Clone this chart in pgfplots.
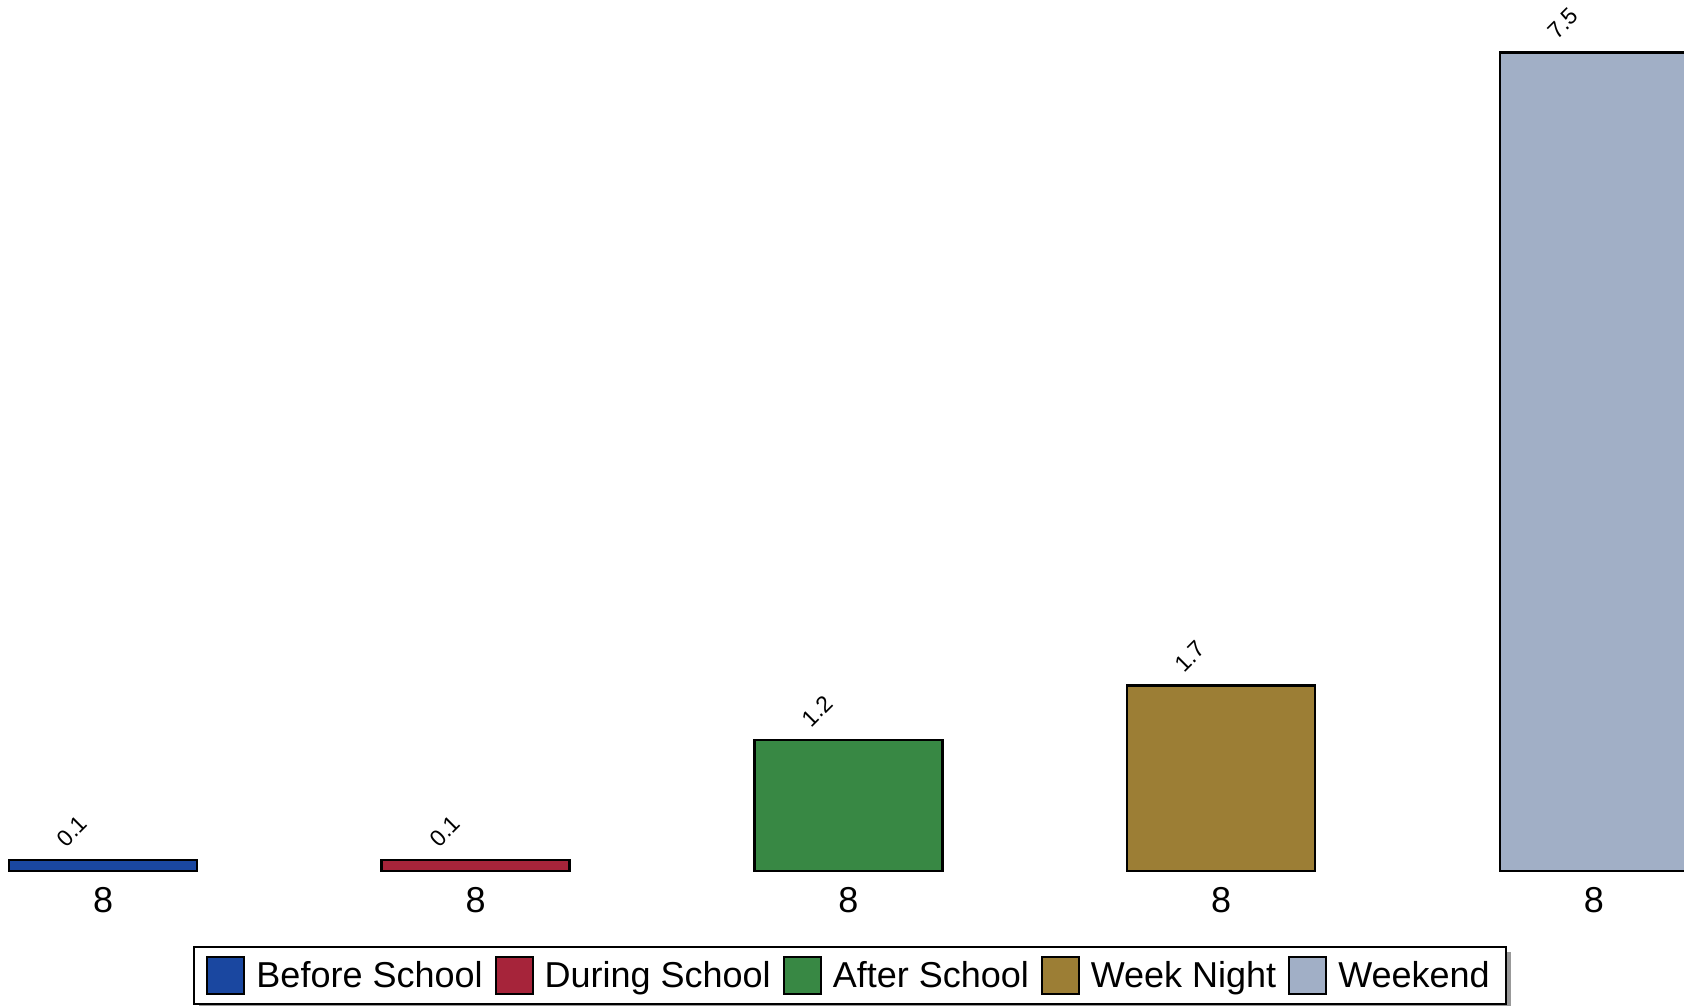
\documentclass[border=0pt]{standalone}
\usepackage{pgfplots}
\pgfplotsset{compat=1.18}
\usepackage{fontspec}
\setmainfont{Liberation Sans}
\definecolor{cA}{RGB}{26,71,160}
\definecolor{cB}{RGB}{166,36,58}
\definecolor{cC}{RGB}{56,136,68}
\definecolor{cD}{RGB}{156,126,53}
\definecolor{cE}{RGB}{161,175,198}
\begin{document}
\begin{tikzpicture}
\begin{axis}[
  scale only axis, width=842pt, height=435.5pt,
  xmin=-0.2765, xmax=4.242, ymin=0, ymax=7.98,
  enlargelimits=false,
  axis line style={draw=none},
  ytick=\empty,
  xtick={0,1,2,3,4}, xticklabels={8,8,8,8,8},
  major tick length=0pt,
  tick style={draw=none},
  xticklabel style={font=\fontsize{18}{20}\selectfont, yshift=-4.6pt},
  /pgf/number format/assume math mode=true,
  ybar, bar width=0.5045,
  nodes near coords={\pgfmathprintnumber[fixed,precision=1,fixed zerofill]{\pgfplotspointmeta}},
  every node near coord/.append style={font=\fontsize{11.5}{12}\selectfont, anchor=center, xshift=-15.5pt, yshift=14.5pt, rotate=45},
  clip mode=individual,
  legend columns=5,
  legend style={name=leg, at={(0.5048,-0.12)}, anchor=center, draw=black, line width=1pt,
    font=\fontsize{18}{20}\selectfont, inner xsep=6pt, inner ysep=4.7pt,
    fill=white,
    /tikz/every odd column/.append style={column sep=3.5pt},
    /tikz/every even column/.append style={column sep=4pt}},
  legend image code/.code={\draw[#1, line width=1pt] (0pt,-9.25pt) rectangle (18.5pt,9.25pt);},
]
\addplot[fill=cA, draw=black, line width=1.3pt, bar shift=0pt] coordinates {(0,0.1)};
\addplot[fill=cB, draw=black, line width=1.3pt, bar shift=0pt] coordinates {(1,0.1)};
\addplot[fill=cC, draw=black, line width=1.3pt, bar shift=0pt] coordinates {(2,1.2)};
\addplot[fill=cD, draw=black, line width=1.3pt, bar shift=0pt] coordinates {(3,1.7)};
\addplot[fill=cE, draw=black, line width=1.3pt, bar shift=0pt] coordinates {(4,7.5)};
\legend{Before School, During School, After School, Week Night, Weekend}
\end{axis}
\fill[gray!80] ([xshift=0pt,yshift=-3pt]leg.north east) rectangle ([xshift=2.2pt,yshift=-2.2pt]leg.south east);
\fill[gray!80] ([xshift=3pt]leg.south west) rectangle ([xshift=2.2pt,yshift=-2.2pt]leg.south east);
\pgfresetboundingbox
\path ([yshift=-67pt]current axis.south west) rectangle (current axis.north east);
\end{tikzpicture}
\end{document}
